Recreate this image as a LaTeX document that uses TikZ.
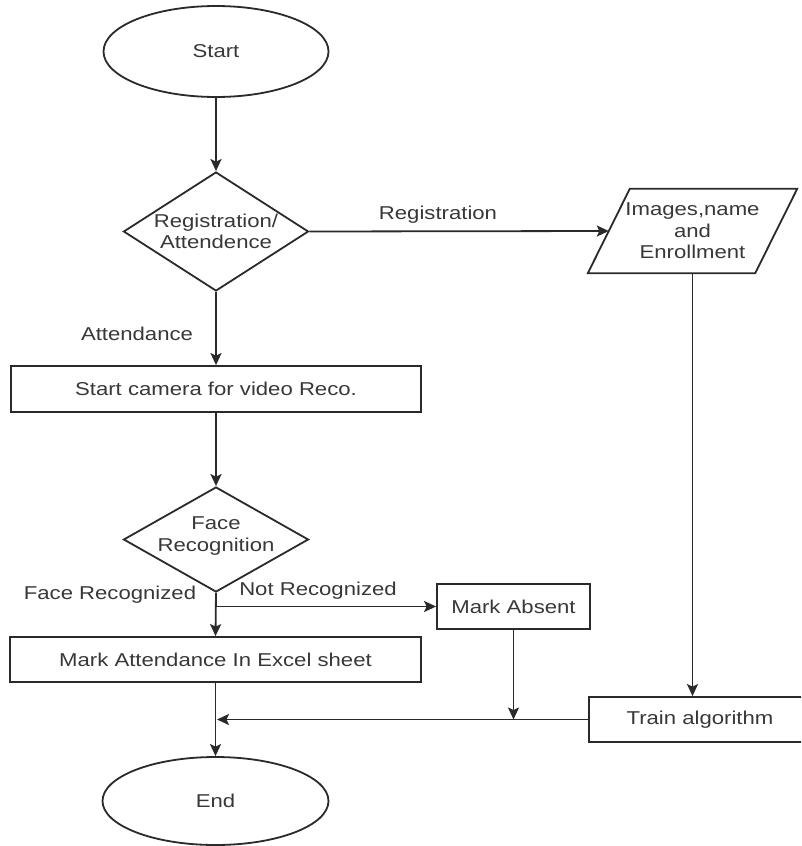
\documentclass[tikz,border=0pt]{standalone}
\usepackage{fontspec}
\setmainfont{Liberation Sans}[FakeStretch=1.19]
\usetikzlibrary{arrows.meta,shapes.geometric}
\definecolor{ln}{HTML}{2A2A2A}
\definecolor{tx}{HTML}{383838}
\begin{document}
\begin{tikzpicture}[x=1pt,y=-1pt,
 every node/.style={font=\fontsize{18.6}{21.5}\selectfont, text=tx},
 box/.style={draw=ln, line width=1.8pt, rectangle, inner sep=0pt},
 oval/.style={draw=ln, line width=1.8pt, ellipse, inner sep=0pt},
 dia/.style={draw=ln, line width=1.8pt, diamond, inner sep=0pt},
 txt/.style={align=center, inner sep=0pt},
 conn/.style={draw=ln, line width=1.8pt, -{Stealth[length=12pt,width=11pt,inset=2.5pt]}},
 outline/.style={draw=ln, line width=1.8pt, line join=miter},
]
\clip (0,0) rectangle (801,846);
\fill[white] (0,0) rectangle (801,846);

% nodes
\node[oval, minimum width=225pt, minimum height=91pt] (start) at (216,51.5) {Start};
\node[dia, minimum width=185pt, minimum height=119pt,
      label={[txt]center:{Registration/\\Attendence}}] (d1) at (216,231.5) {};
\node[txt, minimum width=167pt, minimum height=84pt] (para) at (692.5,231) {Images,name\\and\\Enrollment};
\draw[outline] ([xshift=-21pt]para.south west) -- ([xshift=-21pt]para.south east)
   -- ([xshift=21pt]para.north east) -- ([xshift=21pt]para.north west) -- cycle;
\node[box, minimum width=410pt, minimum height=46pt] (cam) at (216,389) {Start camera for video Reco.};
\node[dia, minimum width=185pt, minimum height=105pt,
      label={[txt, yshift=3.5pt]center:{Face\\Recognition}}] (d2) at (216,539.5) {};
\node[box, minimum width=411pt, minimum height=45pt] (att) at (215.5,659.5) {Mark Attendance In Excel sheet};
\node[box, minimum width=153pt, minimum height=45pt] (absent) at (513.5,606.5) {Mark Absent};
\node[box, minimum width=222pt, minimum height=45pt] (train) at (700,719.5) {Train algorithm};
\node[oval, minimum width=226pt, minimum height=88pt] (end) at (215.5,801) {End};

% labels
\node (lreg) at (438,215) {Registration};
\node (latt) at (137,334) {Attendance};
\node (lfr) at (110,595) {Face Recognized};
\node (lnr) at (318,591) {Not Recognized};

% connectors
\draw[conn] (start.south) -- (d1.north);
\draw[conn] (d1.east) -- (para.west);
\draw[conn] (d1.south) -- (cam.north);
\draw[conn] (cam.south) -- (d2.north);
\draw[conn] (d2.south) -- (att.north);
\draw[conn] (d2.south |- absent.west) -- (absent.west);
\draw[conn] (para.south) -- (para.south |- train.north);
\coordinate (j) at (absent.south |- train.west);
\draw[conn] (absent.south) -- (j);
\coordinate (k) at (att.south |- train.west);
\draw[conn, shorten >=1.5pt] (train.west) -- (k);
\draw[conn] (att.south) -- (end.north);
\end{tikzpicture}
\end{document}
